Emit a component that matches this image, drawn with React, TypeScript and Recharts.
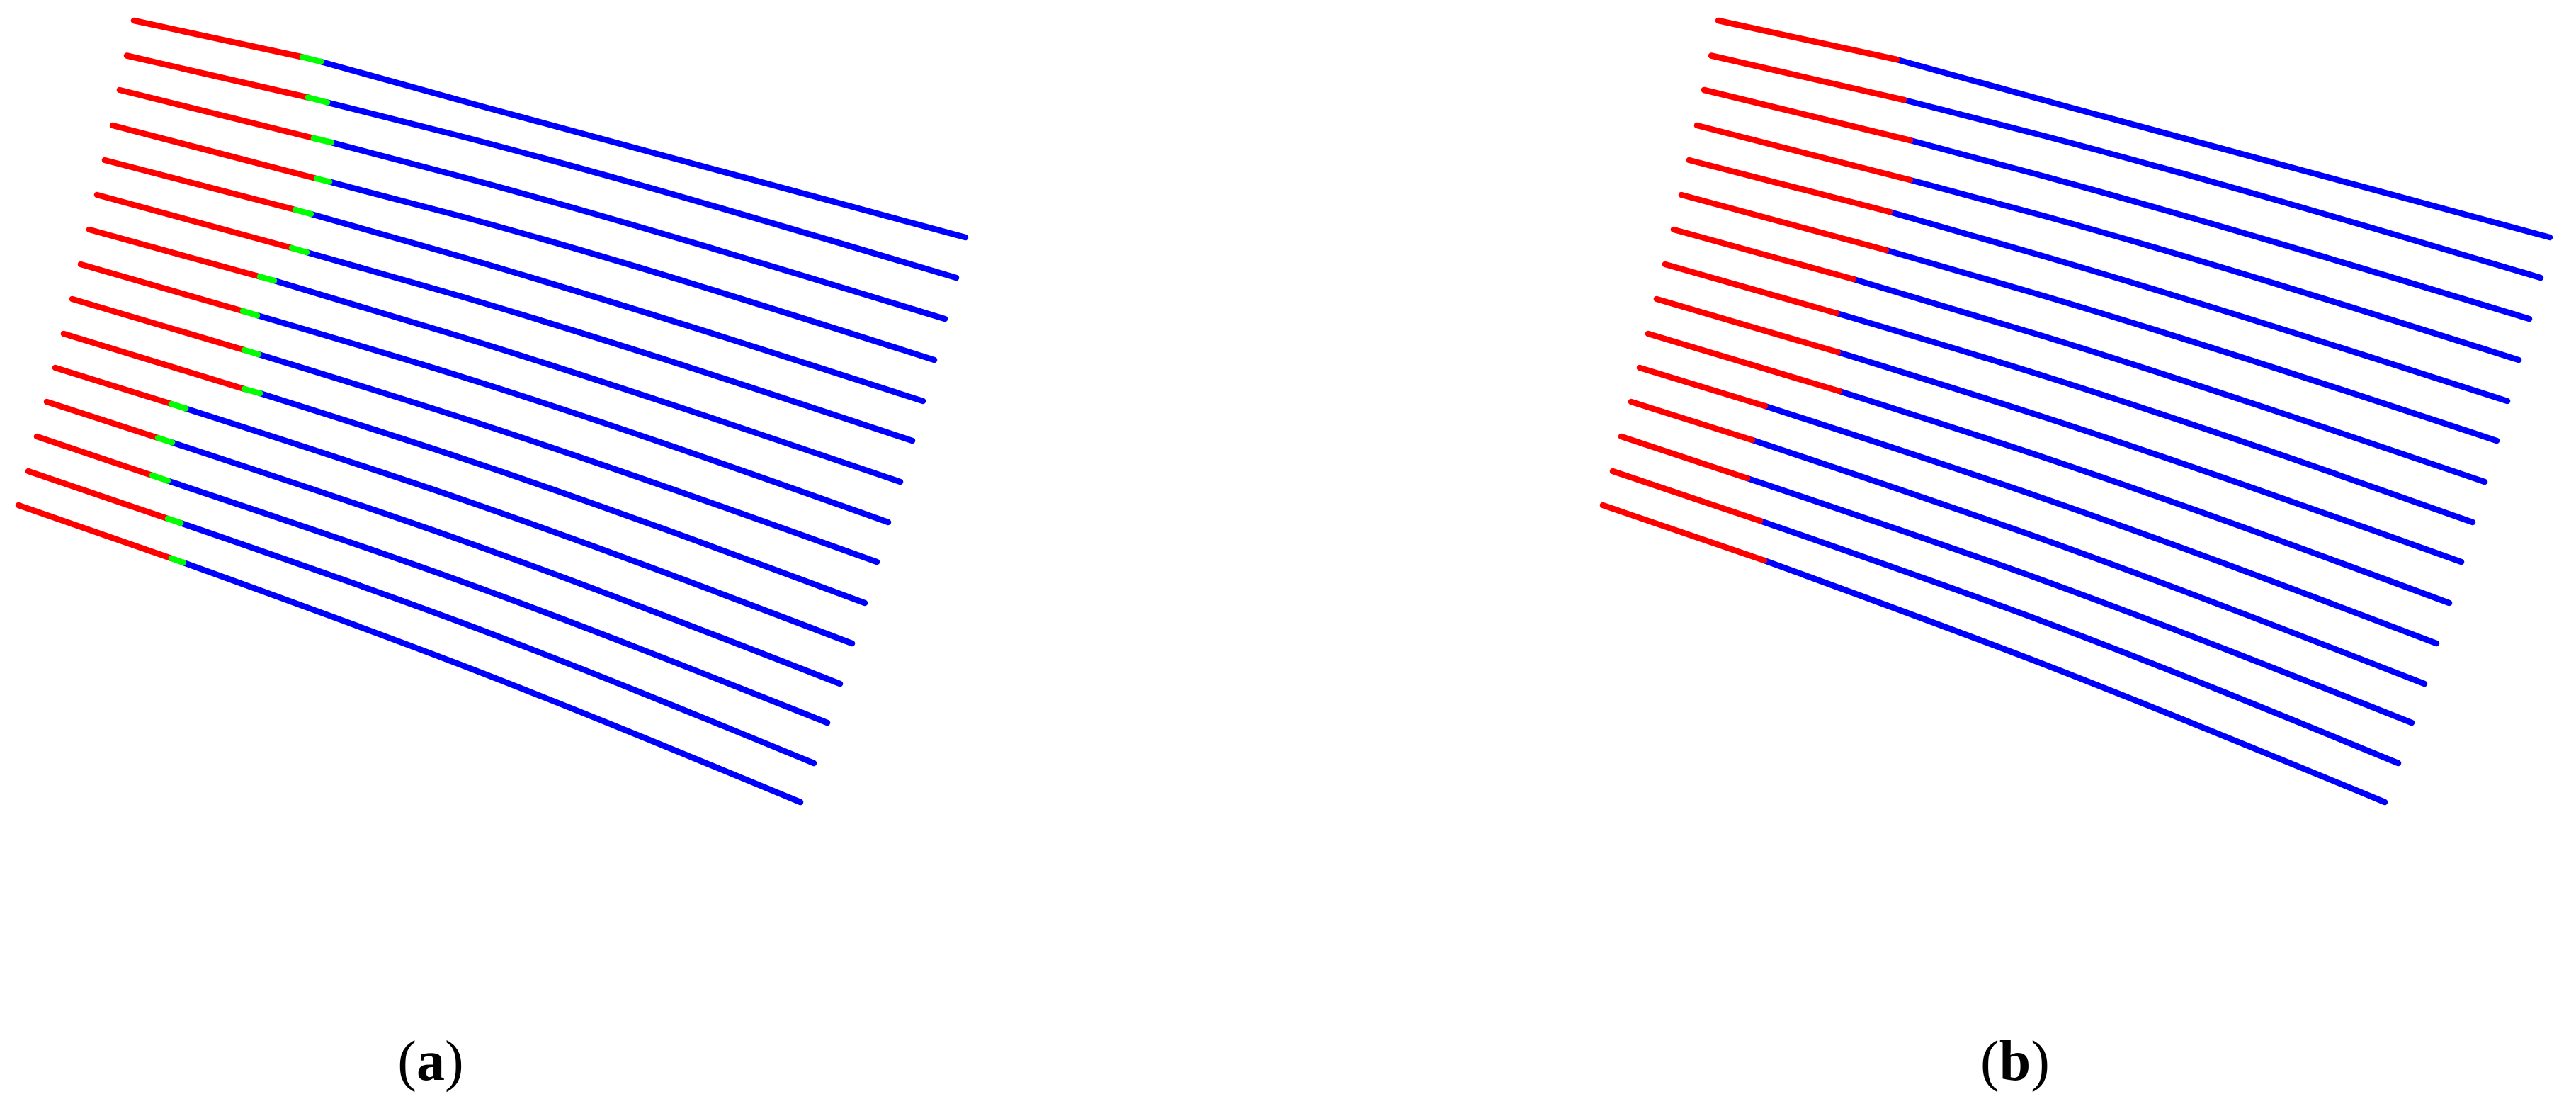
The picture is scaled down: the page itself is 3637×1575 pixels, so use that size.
import React from 'react';
import { LineChart, Line, XAxis, YAxis } from 'recharts';

// 15 tracks, top to bottom, in panel pixels (y grows downwards)
const startX = [189, 179, 169, 159, 148, 137, 126, 114, 102, 90, 78, 66, 52, 40, 26];
const startY = [29, 78.5, 127, 177, 226, 275, 324, 373, 422, 471, 519, 567, 616, 665, 713];

// (a) short green piece between the red and the blue part
const greenFromX = [427, 435, 443, 447, 417, 412, 367, 343, 345, 345, 242, 223, 215, 237, 242];
const greenFromY = [80.5, 137.5, 195, 252, 296, 350, 390.5, 439, 494, 549, 570, 618, 671, 732, 788];
const greenToX = [453, 462, 468, 465, 439, 433, 387, 363, 365, 367, 262, 243, 237, 255, 259];
const greenToY = [87, 144.5, 201, 256.5, 302, 356, 396, 445, 500, 555, 576.5, 624.5, 678.5, 738, 794];

// (b) red turns straight into blue
const switchX = [441, 451, 460, 460, 431, 426, 380, 356, 358, 360, 255, 237, 230, 248, 254];
const switchY = [84, 141, 198, 254, 299, 353, 394, 442, 497, 552, 573, 621, 675, 735, 791];

// one point read along the blue part (tracks bend slightly)
const midX = [680, 650, 650, 650, 650, 650, 650, 650, 650, 650, 650, 650, 650, 650, 650];
const midY = [150, 192, 249, 305, 362, 418, 475, 531, 589, 646, 704, 762, 820, 878, 938];

const endX = [1363, 1350, 1334, 1319, 1303, 1288, 1271, 1254, 1238, 1221, 1203, 1186, 1168, 1149, 1130];
const endY = [335, 392, 450, 508, 566, 622, 680, 737, 793, 851, 908, 965, 1020, 1077, 1132];

const panelLabels = ['a', 'b'];

const RED = '#ff0000';
const GREEN = '#00ff00';
const BLUE = '#0000ff';

const W = 1400;
const H = 1200;

type Pt = { x: number; y: number };

function seg(key: string, data: Pt[], color: string) {
  return (
    <Line
      key={key}
      data={data}
      dataKey="y"
      type="monotone"
      stroke={color}
      strokeWidth={8.5}
      strokeLinecap="round"
      strokeLinejoin="round"
      dot={false}
      activeDot={false}
      isAnimationActive={false}
    />
  );
}

function tracksA() {
  const out: React.ReactNode[] = [];
  startX.forEach((_, i) => {
    const red = [
      { x: startX[i], y: startY[i] },
      { x: greenFromX[i], y: greenFromY[i] },
    ];
    const green = [
      { x: greenFromX[i], y: greenFromY[i] },
      { x: greenToX[i], y: greenToY[i] },
    ];
    const blue = [
      { x: greenToX[i], y: greenToY[i] },
      { x: midX[i], y: midY[i] },
      { x: endX[i], y: endY[i] },
    ];
    out.push(seg(`a-r-${i}`, red, RED));
    out.push(seg(`a-b-${i}`, blue, BLUE));
    out.push(seg(`a-g-${i}`, green, GREEN));
  });
  return out;
}

function tracksB() {
  const out: React.ReactNode[] = [];
  startX.forEach((_, i) => {
    const red = [
      { x: startX[i], y: startY[i] },
      { x: switchX[i], y: switchY[i] },
    ];
    const blue = [
      { x: switchX[i], y: switchY[i] },
      { x: midX[i], y: midY[i] },
      { x: endX[i], y: endY[i] },
    ];
    out.push(seg(`b-b-${i}`, blue, BLUE));
    out.push(seg(`b-r-${i}`, red, RED));
  });
  return out;
}

function Panel({ left, children }: { left: number; children: React.ReactNode }) {
  return (
    <div style={{ position: 'absolute', left, top: 0 }}>
      <LineChart width={W} height={H} margin={{ top: 0, right: 0, bottom: 0, left: 0 }}>
        <XAxis type="number" dataKey="x" domain={[0, W]} hide />
        <YAxis type="number" domain={[0, H]} reversed hide />
        {children}
      </LineChart>
    </div>
  );
}

function Caption({ center, letter }: { center: number; letter: string }) {
  return (
    <div
      style={{
        position: 'absolute',
        left: center - 200,
        top: 1457,
        width: 400,
        textAlign: 'center',
        fontFamily: '"Liberation Serif", "DejaVu Serif", serif',
        fontSize: 80,
        lineHeight: '80px',
        color: '#000',
      }}
    >
      (<b>{letter}</b>)
    </div>
  );
}

export default function App() {
  return (
    <div
      style={{
        position: 'absolute',
        left: 0,
        top: 0,
        width: 3637,
        height: 1575,
        background: '#fff',
        overflow: 'hidden',
      }}
    >
      <Panel left={0}>{tracksA()}</Panel>
      <Panel left={2237}>{tracksB()}</Panel>
      <Caption center={608} letter={panelLabels[0]} />
      <Caption center={2845} letter={panelLabels[1]} />
    </div>
  );
}
